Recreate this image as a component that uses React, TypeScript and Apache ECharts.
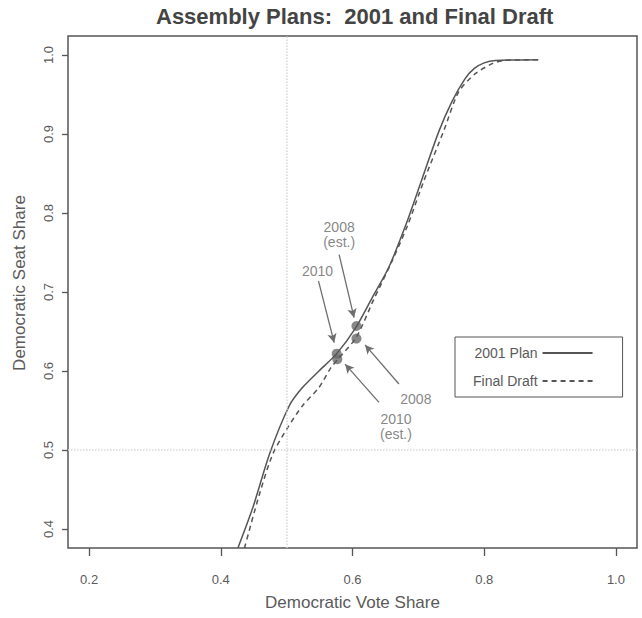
import React, { useEffect, useRef } from "react";
import * as echarts from "echarts";

// Curve data
const planX = [0.426, 0.449, 0.474, 0.504, 0.524, 0.549, 0.576, 0.605, 0.630, 0.655, 0.681, 0.706, 0.731, 0.751, 0.771, 0.785, 0.800, 0.817, 0.882];
const planY = [0.376, 0.428, 0.495, 0.556, 0.579, 0.600, 0.622, 0.655, 0.693, 0.731, 0.785, 0.844, 0.903, 0.941, 0.970, 0.983, 0.990, 0.993, 0.994];

const draftX = [0.436, 0.459, 0.479, 0.502, 0.524, 0.549, 0.567, 0.578, 0.606, 0.632, 0.660, 0.684, 0.708, 0.739, 0.761, 0.786, 0.812, 0.830, 0.882];
const draftY = [0.376, 0.445, 0.495, 0.529, 0.556, 0.579, 0.604, 0.615, 0.643, 0.690, 0.739, 0.785, 0.840, 0.905, 0.953, 0.976, 0.989, 0.993, 0.994];

// Election points
const electionNames = ["2010", "2010 (est.)", "2008 (est.)", "2008"];
const electionX = [0.576, 0.577, 0.606, 0.606];
const electionY = [0.622, 0.615, 0.657, 0.641];

// Annotation labels
const noteText = ["2008\n(est.)", "2010", "2008", "2010\n(est.)"];
const noteX = [0.5797, 0.5469, 0.6962, 0.666];
const noteY = [0.7724, 0.7264, 0.565, 0.5296];

// Arrows (from label to point)
const arrowFromX = [0.5797, 0.5484, 0.6705, 0.6402];
const arrowFromY = [0.7474, 0.7137, 0.5835, 0.5603];
const arrowToX = [0.6024, 0.5722, 0.6191, 0.5888];
const arrowToY = [0.6675, 0.6359, 0.6330, 0.6087];

// Axis ticks
const xTicks = [0.2, 0.4, 0.6, 0.8, 1.0];
const yTicks = [0.4, 0.5, 0.6, 0.7, 0.8, 0.9, 1.0];

const FONT = "Liberation Sans, Arial, Helvetica, sans-serif";
const INK = "#5a5a5a";

export default function App() {
  const ref = useRef<HTMLDivElement>(null);

  useEffect(() => {
    if (!ref.current) return;
    const chart = echarts.init(ref.current, undefined, { renderer: "svg" });

    const planData = planX.map((x, i) => [x, planY[i]]);
    const draftData = draftX.map((x, i) => [x, draftY[i]]);
    const electionData = electionX.map((x, i) => ({ name: electionNames[i], value: [x, electionY[i]] }));
    const noteData = noteX.map((x, i) => ({ name: noteText[i], value: [x, noteY[i]] }));
    const arrows = arrowFromX.map((x, i) => [
      { coord: [x, arrowFromY[i]] },
      { coord: [arrowToX[i], arrowToY[i]] },
    ]);

    chart.setOption({
      animation: false,
      textStyle: { fontFamily: FONT },
      title: {
        text: "Assembly Plans:  2001 and Final Draft",
        left: 156,
        top: 5,
        padding: 0,
        textStyle: { fontFamily: FONT, fontSize: 22, fontWeight: "bold", color: "#444" },
      },
      grid: {
        left: 68,
        right: 5,
        top: 36,
        bottom: 70,
        show: true,
        borderColor: "#555",
        borderWidth: 1.5,
        backgroundColor: "transparent",
      },
      legend: {
        data: ["2001 Plan", "Final Draft"],
        orient: "vertical",
        left: 455,
        top: 337,
        align: "right",
        itemWidth: 50,
        itemHeight: 1,
        itemGap: 14,
        padding: [9, 29, 9, 18],
        borderColor: "#555",
        borderWidth: 1,
        itemStyle: { color: "transparent", borderColor: "transparent", borderWidth: 0 },
        textStyle: { fontFamily: FONT, fontSize: 14, color: INK },
      },
      xAxis: {
        type: "value",
        min: 0.168,
        max: 1.032,
        axisLine: { show: false },
        splitLine: { show: false },
        axisTick: {
          show: true,
          customValues: xTicks,
          length: 8,
          lineStyle: { color: "#555", width: 1.3 },
        },
        axisLabel: {
          customValues: xTicks,
          margin: 25,
          fontSize: 13,
          color: INK,
          fontFamily: FONT,
          formatter: (v: number) => v.toFixed(1),
        },
        name: "Democratic Vote Share",
        nameLocation: "middle",
        nameGap: 46,
        nameTextStyle: { fontSize: 17, color: INK, fontFamily: FONT },
      },
      yAxis: {
        type: "value",
        min: 0.376,
        max: 1.024,
        axisLine: { show: false },
        splitLine: { show: false },
        axisTick: {
          show: true,
          customValues: yTicks,
          length: 6,
          lineStyle: { color: "#555", width: 1.3 },
        },
        axisLabel: {
          customValues: yTicks,
          rotate: 90,
          margin: 13,
          fontSize: 13,
          color: INK,
          fontFamily: FONT,
          formatter: (v: number) => v.toFixed(1),
        },
        name: "Democratic Seat Share",
        nameLocation: "middle",
        nameGap: 40,
        nameTextStyle: { fontSize: 17, color: INK, fontFamily: FONT, padding: [0, 0, 0, 18] },
      },
      series: [
        {
          name: "2001 Plan",
          type: "line",
          data: planData,
          smooth: 0.25,
          symbol: "none",
          lineStyle: { color: "#555", width: 1.5, type: "solid" },
          itemStyle: { color: "#555" },
          markLine: {
            silent: true,
            symbol: ["none", "none"],
            label: { show: false },
            lineStyle: { color: "#d8d8d8", type: "dotted", width: 1.5 },
            data: [{ xAxis: 0.5 }, { yAxis: 0.5 }],
          },
        },
        {
          name: "Final Draft",
          type: "line",
          data: draftData,
          smooth: 0.25,
          symbol: "none",
          lineStyle: { color: "#555", width: 1.5, type: [5, 4] },
          itemStyle: { color: "#555" },
        },
        {
          name: "Elections",
          type: "scatter",
          data: electionData,
          symbolSize: 10,
          itemStyle: { color: "#6a6a6a" },
          markLine: {
            silent: true,
            symbol: ["none", "arrow"],
            symbolSize: [7, 9],
            label: { show: false },
            lineStyle: { color: "#6e6e6e", type: "solid", width: 1.3 },
            data: arrows,
          },
        },
        {
          name: "Notes",
          type: "scatter",
          data: noteData,
          symbolSize: 0,
          silent: true,
          label: {
            show: true,
            position: "inside",
            formatter: "{b}",
            fontSize: 14,
            lineHeight: 15,
            color: "#666",
            fontFamily: FONT,
            align: "center",
          },
        },
      ],
    });

    return () => chart.dispose();
  }, []);

  return (
    <div
      ref={ref}
      style={{ position: "absolute", left: 0, top: 0, width: 642, height: 618, background: "#fff" }}
    />
  );
}
